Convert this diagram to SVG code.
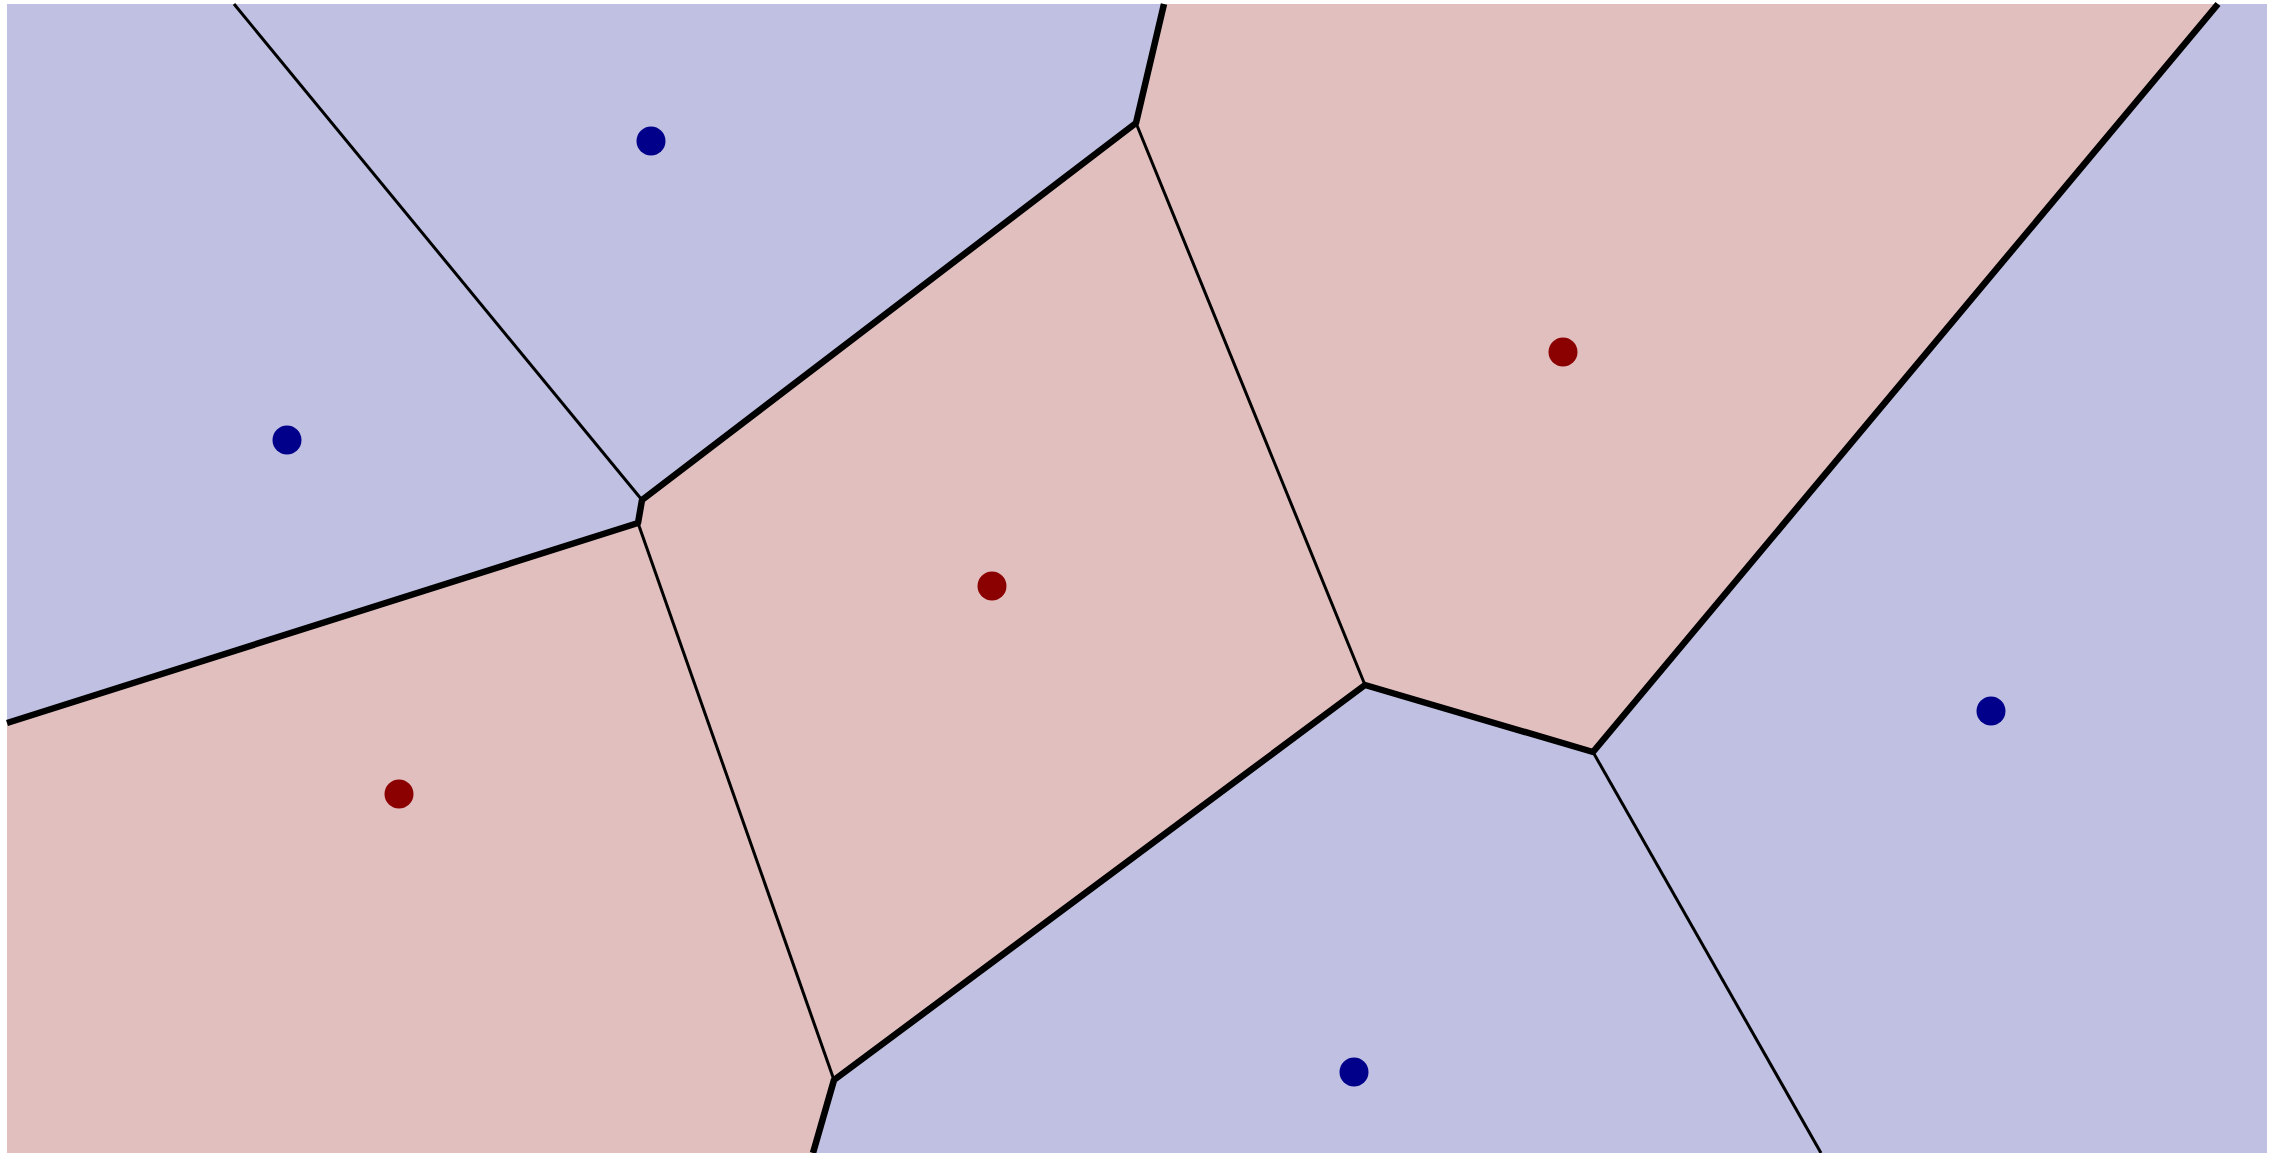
<svg xmlns="http://www.w3.org/2000/svg" width="2275" height="1153" viewBox="0 0 2275 1153">
<style>
.blue{fill:#c0c0e2}
.red{fill:#e2bfbf}
.thick{stroke:#000;stroke-width:6.5;fill:none;stroke-linejoin:round}
.thin{stroke:#000;stroke-width:3;fill:none}
.pb{fill:#00008b}
.pr{fill:#8b0000}
</style>
<rect width="2275" height="1153" fill="#fff"/>
<g id="cells">
<polygon id="cell-tl" class="blue" points="7,4 234,4 642,500 638,523 7,723"/>
<polygon id="cell-tm" class="blue" points="234,4 1164,4 1136,123 642,500"/>
<polygon id="cell-c" class="red" points="642,500 1136,123 1365,685 834,1080 638,523"/>
<polygon id="cell-bl" class="red" points="7,723 638,523 834,1080 813,1153 7,1153"/>
<polygon id="cell-tr" class="red" points="1164,4 2218,4 1593,752 1365,685 1136,123"/>
<polygon id="cell-r" class="blue" points="2218,4 2267,4 2267,1153 1821,1153 1593,752"/>
<polygon id="cell-b" class="blue" points="1365,685 1593,752 1821,1153 813,1153 834,1080"/>
</g>
<g id="edges">
<line class="thin" x1="234" y1="4" x2="642" y2="500"/>
<line class="thin" x1="1136" y1="123" x2="1365" y2="685"/>
<line class="thin" x1="638" y1="523" x2="834" y2="1080"/>
<line class="thin" x1="1593" y1="752" x2="1821" y2="1153"/>
<polyline class="thick" points="7,723 638,523 642,500 1136,123 1164,4"/>
<polyline class="thick" points="2218,4 1593,752 1365,685 834,1080 813,1153"/>
</g>
<g id="sites">
<circle class="pb" cx="651" cy="141" r="14.5"/>
<circle class="pb" cx="287" cy="440" r="14.5"/>
<circle class="pb" cx="1991" cy="711" r="14.5"/>
<circle class="pb" cx="1354" cy="1072" r="14.5"/>
<circle class="pr" cx="992" cy="586" r="14.5"/>
<circle class="pr" cx="1563" cy="352" r="14.5"/>
<circle class="pr" cx="399" cy="794" r="14.5"/>
</g>
</svg>
